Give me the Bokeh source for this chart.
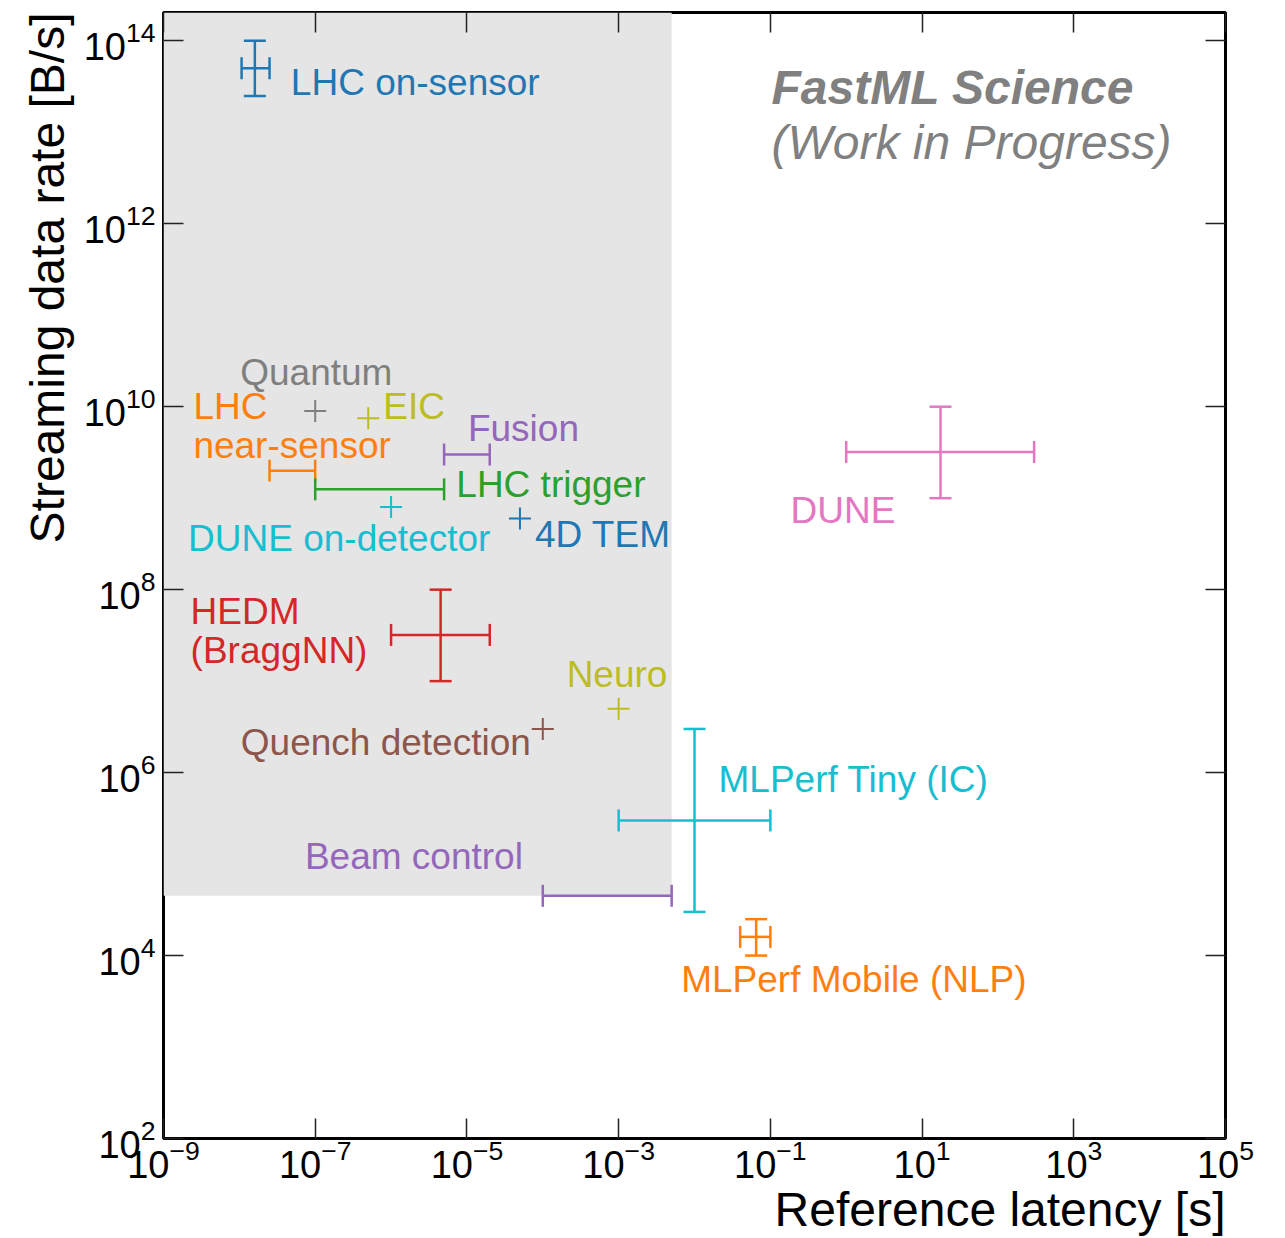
import math
from bokeh.plotting import figure
from bokeh.models import (ColumnDataSource, Whisker, TeeHead, LogAxis, FixedTicker,
                          Label, Range1d, CustomJSTickFormatter, Title)
from bokeh.embed import file_html
from bokeh.resources import INLINE
from bokeh.core.properties import value

nan = float("nan")

# ---------------- data ----------------
names = ["LHC on-sensor", "Quantum", "LHC\nnear-sensor", "EIC", "Fusion", "LHC trigger",
         "DUNE on-detector", "4D TEM", "DUNE", "HEDM\n(BraggNN)", "Neuro",
         "Quench detection", "MLPerf Tiny (IC)", "Beam control", "MLPerf Mobile (NLP)"]
latency = [1.6e-8, 1e-7, 5e-8, 5e-7, 1e-5, 7e-7, 1e-6, 5e-5, 17.5, 4.5e-6, 1e-3, 1e-4,
           1e-2, 7e-4, 0.065]
latency_lo = [1.07e-8, nan, 2.5e-8, nan, 5e-6, 1e-7, nan, nan, 1.0, 1e-6, nan, nan,
              1e-3, 1e-4, 0.04]
latency_hi = [2.5e-8, nan, 1e-7, nan, 2e-5, 5e-6, nan, nan, 300.0, 2e-5, nan, nan,
              0.1, 5e-3, 0.1]
rate = [5e13, 9e9, 2e9, 7.5e9, 3e9, 1.25e9, 8e8, 6e8, 3.2e9, 3.2e7, 5e6, 3e6,
        3e5, 4.5e4, 1.6e4]
rate_lo = [2.5e13, nan, nan, nan, nan, nan, nan, nan, 1e9, 1e7, nan, nan,
           3e4, nan, 1e4]
rate_hi = [1e14, nan, nan, nan, nan, nan, nan, nan, 1e10, 1e8, nan, nan,
           3e6, nan, 2.5e4]

# low-latency / high-rate shaded region
region_latency_max = 5e-3
region_rate_min = 4.5e4

x_ticks = [1e-9, 1e-7, 1e-5, 1e-3, 1e-1, 1e1, 1e3, 1e5]
y_ticks = [1e2, 1e4, 1e6, 1e8, 1e10, 1e12, 1e14]

# ---------------- styles ----------------
colors = ["#1f77b4", "#7f7f7f", "#ff7f0e", "#bcbd22", "#9467bd", "#2ca02c",
          "#17becf", "#1f77b4", "#e377c2", "#d62728", "#bcbd22", "#8c564b",
          "#17becf", "#9467bd", "#ff7f0e"]
label_dx = [36, -75, -99, 15, 1, 77, -203, 15, -150, -250, -52, -302, 24, -302, -75]
label_dy = [14, -38, -45, -12, -26, -5, 31, 16, 59, -4, -34, 14, -41, -39, 43]

FONT = "Liberation Sans"

X_MIN, X_MAX = 1e-9, 1e5
Y_MIN, Y_MAX = 1e2, 2.04e14

p = figure(width=1285, height=1238, x_axis_type="log", y_axis_type="log",
           x_range=Range1d(X_MIN, X_MAX), y_range=Range1d(Y_MIN, Y_MAX),
           output_backend="svg", toolbar_location=None,
           min_border_left=163, min_border_right=60, min_border_top=12,
           min_border_bottom=100)
p.background_fill_color = "white"
p.border_fill_color = "white"
p.outline_line_color = "black"
p.outline_line_width = 3
p.xgrid.visible = False
p.ygrid.visible = False

# shaded region
p.quad(left=[X_MIN], right=[region_latency_max], bottom=[region_rate_min], top=[Y_MAX],
       fill_color="#e5e5e5", line_color=None)

# error bars
for i, nm in enumerate(names):
    c = colors[i]
    has_x = not math.isnan(latency_lo[i])
    has_y = not math.isnan(rate_lo[i])
    if has_x:
        src = ColumnDataSource(dict(base=[rate[i]], lo=[latency_lo[i]], hi=[latency_hi[i]]))
        w = Whisker(source=src, base="base", lower="lo", upper="hi", dimension="width",
                    line_color=c, line_width=2.5, level="glyph",
                    upper_head=TeeHead(size=22, line_color=c, line_width=2.5),
                    lower_head=TeeHead(size=22, line_color=c, line_width=2.5))
        p.add_layout(w)
    if has_y:
        src = ColumnDataSource(dict(base=[latency[i]], lo=[rate_lo[i]], hi=[rate_hi[i]]))
        w = Whisker(source=src, base="base", lower="lo", upper="hi", dimension="height",
                    line_color=c, line_width=2.5, level="glyph",
                    upper_head=TeeHead(size=22, line_color=c, line_width=2.5),
                    lower_head=TeeHead(size=22, line_color=c, line_width=2.5))
        p.add_layout(w)

# plain points
pt_idx = [i for i in range(len(names)) if math.isnan(latency_lo[i]) and math.isnan(rate_lo[i])]
pt_src = ColumnDataSource(dict(x=[latency[i] for i in pt_idx], y=[rate[i] for i in pt_idx],
                               c=[colors[i] for i in pt_idx]))
p.scatter("x", "y", source=pt_src, marker="cross", size=22, line_width=2, line_color="c")

lab_src = ColumnDataSource(dict(x=latency, y=rate, t=names, c=colors, dx=label_dx, dy=label_dy))
p.text("x", "y", text="t", source=lab_src, x_offset="dx", y_offset="dy",
       text_color="c", text_font=value(FONT), text_font_size="37px",
       text_align="left", text_baseline="middle", text_line_height=0.95)

# axes
for ax, ticks in ((p.xaxis[0], x_ticks), (p.yaxis[0], y_ticks)):
    ax.ticker = FixedTicker(ticks=ticks)
    ax.axis_line_color = None
    ax.major_tick_in = 20
    ax.major_tick_out = 0
    ax.major_tick_line_color = "#222222"
    ax.major_tick_line_width = 1.5
    ax.minor_tick_line_color = None
    ax.major_label_text_font = FONT
    ax.major_label_text_font_size = "38px"
    ax.major_label_text_color = "black"
p.xaxis[0].major_label_standoff = 0
p.yaxis[0].major_label_standoff = 8

for loc, ticks in (("above", x_ticks), ("right", y_ticks)):
    ax = LogAxis(ticker=FixedTicker(ticks=ticks), axis_line_color=None,
                 formatter=CustomJSTickFormatter(code="return ' '"),
                 major_tick_in=20, major_tick_out=0, major_tick_line_color="#222222",
                 major_tick_line_width=1.5, minor_tick_line_color=None,
                 major_label_text_font_size="2px", major_label_standoff=0)
    p.add_layout(ax, loc)

# axis titles
p.add_layout(Title(text="Reference latency [s]", align="right", text_font=FONT,
                   text_font_size="48px", text_font_style="normal", text_color="black",
                   standoff=0, offset=0), "below")
p.add_layout(Title(text="Streaming data rate [B/s]", align="right", text_font=FONT,
                   text_font_size="48px", text_font_style="normal", text_color="black",
                   standoff=14, offset=0), "left")

# watermark title
p.add_layout(Label(x=608, y=1051, x_units="screen", y_units="screen",
                   text="FastML Science", text_align="left", text_baseline="alphabetic",
                   text_font=FONT, text_font_size="48px", text_font_style="bold italic",
                   text_color="#808080"))
p.add_layout(Label(x=608, y=996, x_units="screen", y_units="screen",
                   text="(Work in Progress)", text_align="left", text_baseline="alphabetic",
                   text_font=FONT, text_font_size="48px", text_font_style="italic",
                   text_color="#808080"))

open("out.html", "w").write(file_html(p, INLINE))
